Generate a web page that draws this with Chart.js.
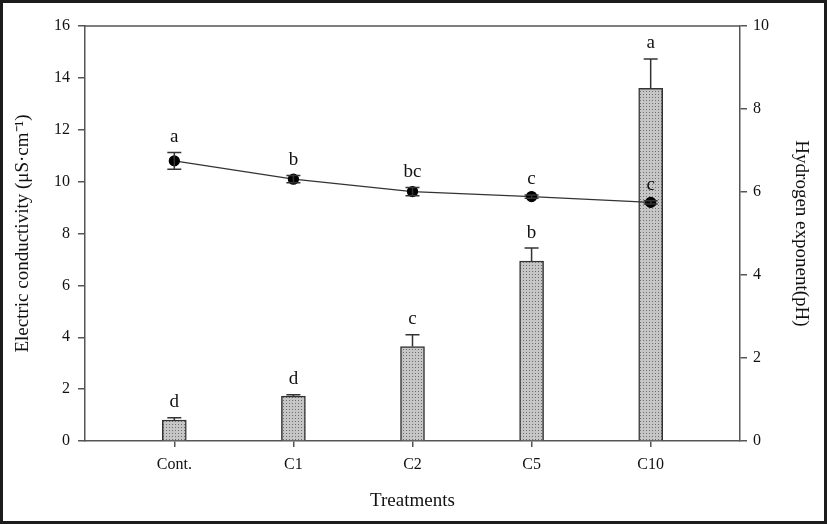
<!DOCTYPE html>
<html>
<head>
<meta charset="utf-8">
<script src="https://cdn.jsdelivr.net/npm/chart.js@4.4.0/dist/chart.umd.min.js"></script>
<style>
  html, body { margin: 0; padding: 0; background: #fff; }
  #wrap { width: 827px; height: 524px; position: relative; }
</style>
</head>
<body>
<div id="wrap"><canvas id="myChart" width="827" height="524"></canvas></div>
<script>
const treatments = ['Cont.', 'C1', 'C2', 'C5', 'C10'];

// electric conductivity (bars, left axis)
const ecValues = [0.81, 1.73, 3.64, 6.94, 13.6];
const ecErrors = [0.09, 0.05, 0.46, 0.50, 1.13];
const ecLetters = ['d', 'd', 'c', 'b', 'a'];

// pH (line, right axis)
const phValues = [6.75, 6.31, 6.01, 5.89, 5.75];
const phErrors = [0.20, 0.09, 0.10, 0.04, 0.04];
const phLetters = ['a', 'b', 'bc', 'c', 'c'];

const serif = 'Liberation Serif, Times New Roman, serif';
const axisColor = '#555';

// stippled gray fill like the original bars
function dotPattern() {
    const c = document.createElement('canvas');
    c.width = 3;
    c.height = 3;
    const g = c.getContext('2d');
    g.fillStyle = '#c6c6c6';
    g.fillRect(0, 0, 3, 3);
    g.fillStyle = '#6e6e6e';
    g.fillRect(1, 1, 1, 1);
    return g.createPattern(c, 'repeat');
}

const errorBars = {
    id: 'errorBars',
    afterDatasetsDraw(chart) {
        const ctx = chart.ctx;
        ctx.save();
        ctx.strokeStyle = '#333';
        ctx.lineWidth = 1.5;
        ctx.fillStyle = '#111';
        ctx.font = '19px ' + serif;
        ctx.textAlign = 'center';
        ctx.textBaseline = 'bottom';
        chart.data.datasets.forEach((ds, di) => {
            const meta = chart.getDatasetMeta(di);
            const scale = chart.scales[meta.yAxisID];
            meta.data.forEach((el, i) => {
                const v = ds.data[i].y;
                const e = ds.errors[i];
                const top = scale.getPixelForValue(v + e);
                const from = ds.type === 'line' ? scale.getPixelForValue(v - e) : el.y;
                ctx.beginPath();
                ctx.moveTo(el.x, from);
                ctx.lineTo(el.x, top);
                ctx.moveTo(el.x - 7, top);
                ctx.lineTo(el.x + 7, top);
                if (ds.type === 'line') {
                    ctx.moveTo(el.x - 7, from);
                    ctx.lineTo(el.x + 7, from);
                }
                ctx.stroke();
                ctx.fillText(ds.letters[i], el.x, top - 6);
            });
        });
        ctx.restore();
    }
};

const frame = {
    id: 'frame',
    beforeDatasetsDraw(chart) {
        const {ctx, chartArea} = chart;
        ctx.save();
        ctx.strokeStyle = axisColor;
        ctx.lineWidth = 1.5;
        ctx.beginPath();
        ctx.moveTo(chartArea.left, chartArea.top);
        ctx.lineTo(chartArea.right, chartArea.top);
        ctx.stroke();
        ctx.restore();
    },
    afterDraw(chart) {
        const ctx = chart.ctx;
        ctx.save();
        ctx.strokeStyle = '#1c1c1c';
        ctx.lineWidth = 3;
        ctx.strokeRect(1.5, 1.5, chart.width - 3, chart.height - 3);
        ctx.restore();
    }
};

const ctx = document.getElementById('myChart');

const config = {
    data: {
        datasets: [{
            type: 'line',
            yAxisID: 'y2',
            data: phValues.map((v, i) => ({x: i + 1, y: v})),
            errors: phErrors,
            letters: phLetters,
            borderColor: '#333',
            borderWidth: 1.3,
            pointRadius: 5,
            pointBackgroundColor: '#000',
            pointBorderColor: '#000',
            tension: 0,
            order: 0
        }, {
            type: 'bar',
            yAxisID: 'y',
            data: ecValues.map((v, i) => ({x: i + 1, y: v})),
            errors: ecErrors,
            letters: ecLetters,
            backgroundColor: dotPattern(),
            borderColor: '#333',
            borderWidth: 1.5,
            barThickness: 24,
            order: 1
        }]
    },
    options: {
        responsive: false,
        animation: false,
        layout: { padding: { top: 26, left: 0, right: 0, bottom: 0 } },
        plugins: {
            legend: { display: false },
            tooltip: { enabled: false }
        },
        scales: {
            x: {
                type: 'linear',
                offset: false,
                min: 0.25,
                max: 5.75,
                afterBuildTicks: scale => {
                    scale.ticks = treatments.map((t, i) => ({value: i + 1}));
                },
                afterFit: scale => { scale.height = 83; },
                ticks: {
                    autoSkip: false,
                    maxRotation: 0,
                    padding: 8,
                    color: '#111',
                    font: { family: serif, size: 16 },
                    callback: v => treatments[v - 1]
                },
                grid: { offset: false, drawOnChartArea: false, tickLength: 6, color: axisColor, lineWidth: 1.5 },
                border: { color: axisColor, width: 1.5 },
                title: {
                    display: true,
                    text: 'Treatments',
                    color: '#111',
                    font: { family: serif, size: 19 },
                    padding: { top: 0, bottom: 12 }
                }
            },
            y: {
                position: 'left',
                min: 0,
                max: 16,
                ticks: {
                    stepSize: 2,
                    padding: 8,
                    color: '#111',
                    font: { family: serif, size: 16 }
                },
                afterFit: scale => { scale.width = 85; },
                grid: { drawOnChartArea: false, tickLength: 7, color: axisColor, lineWidth: 1.5 },
                border: { color: axisColor, width: 1.5 },
                title: {
                    display: true,
                    text: 'Electric conductivity (μS·cm⁻¹)',
                    color: '#111',
                    font: { family: serif, size: 19 },
                    padding: { top: 12, bottom: 0 }
                }
            },
            y2: {
                position: 'right',
                min: 0,
                max: 10,
                ticks: {
                    stepSize: 2,
                    padding: 6,
                    color: '#111',
                    font: { family: serif, size: 16 }
                },
                afterFit: scale => { scale.width = 87; },
                grid: { drawOnChartArea: false, tickLength: 7, color: axisColor, lineWidth: 1.5 },
                border: { color: axisColor, width: 1.5 },
                title: {
                    display: true,
                    text: 'Hydrogen exponent(pH)',
                    color: '#111',
                    font: { family: serif, size: 19 },
                    padding: { top: 15, bottom: 0 }
                }
            }
        }
    },
    plugins: [frame, errorBars]
};

const myChart = new Chart(ctx, config);
</script>
</body>
</html>
